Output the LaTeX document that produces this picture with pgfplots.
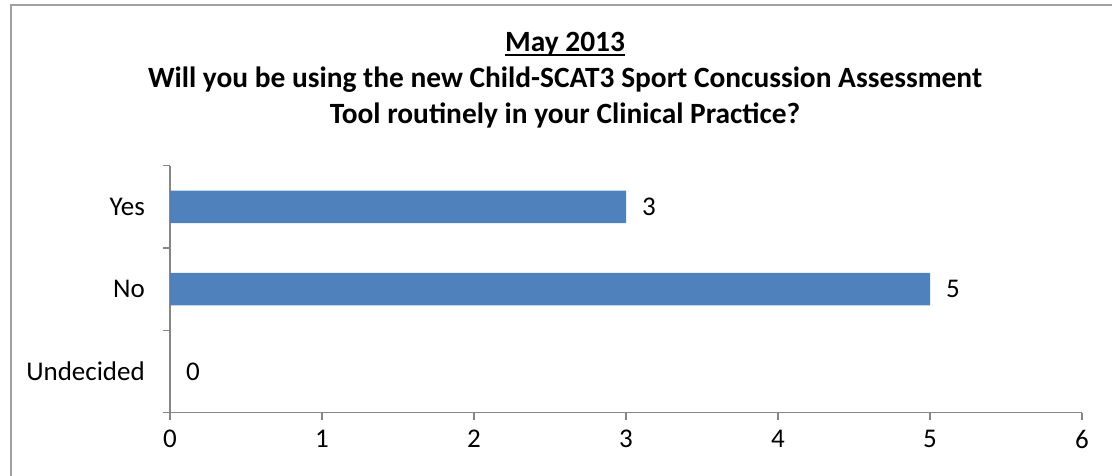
\documentclass[border=0pt]{standalone}
\usepackage{fontspec}
\setmainfont{Carlito}
\usepackage{pgfplots}
\pgfplotsset{compat=1.18}

\definecolor{barblue}{HTML}{4F81BD}
\definecolor{axisgray}{HTML}{868686}
\definecolor{framegray}{HTML}{A0A0A0}

\begin{document}
\begin{tikzpicture}
  \useasboundingbox (0,0) rectangle (1112bp,476bp);
  \clip (0,0) rectangle (1112bp,476bp);
  % chart frame, runs off the right and bottom edges
  \draw[framegray, line width=2bp] (11bp,-20bp) |- (1140bp,470.5bp);

  % title
  \node[anchor=base, font=\fontsize{29.4bp}{35bp}\selectfont\bfseries, inner sep=0] (t1) at (565bp,424bp) {May 2013};
  \draw[line width=1.8bp] ([yshift=-3bp]t1.base west) -- ([yshift=-3bp]t1.base east);
  \node[anchor=base, font=\fontsize{29.4bp}{35bp}\selectfont\bfseries, inner sep=0] at (565bp,388bp) {Will you be using the new Child-SCAT3 Sport Concussion Assessment};
  \node[anchor=base, font=\fontsize{29.4bp}{35bp}\selectfont\bfseries, inner sep=0] at (565bp,352bp) {Tool routinely in your Clinical Practice?};

  \begin{axis}[
    at={(170bp,63.3bp)}, anchor=south west,
    scale only axis,
    width=912bp, height=247bp,
    xbar, bar width=32.6bp,
    xmin=0, xmax=6, ymin=-0.5, ymax=2.5,
    axis x line*=bottom, axis y line*=left,
    axis line style={axisgray, line width=1.5bp},
    xtick={0,1,2,3,4,5,6},
    ytick={0,1,2},
    yticklabels={Undecided,No,Yes},
    minor ytick={-0.5,0.5,1.5,2.5},
    tick align=outside,
    major tick length=7bp, minor tick length=7bp,
    tick style={axisgray, line width=1.5bp},
    major y tick style={draw=none},
    /pgf/number format/assume math mode=true,
    ticklabel style={font=\fontsize{27bp}{32bp}\selectfont, inner sep=0},
    xticklabel style={anchor=north, yshift=-10bp},
    yticklabel style={anchor=east, xshift=-18bp},
    nodes near coords,
    nodes near coords style={font=\fontsize{27bp}{32bp}\selectfont, anchor=west, inner sep=0, xshift=16bp},
  ]
    \addplot[fill=barblue, draw=none] coordinates {(0,0) (5,1) (3,2)};
  \end{axis}
\end{tikzpicture}
\end{document}
